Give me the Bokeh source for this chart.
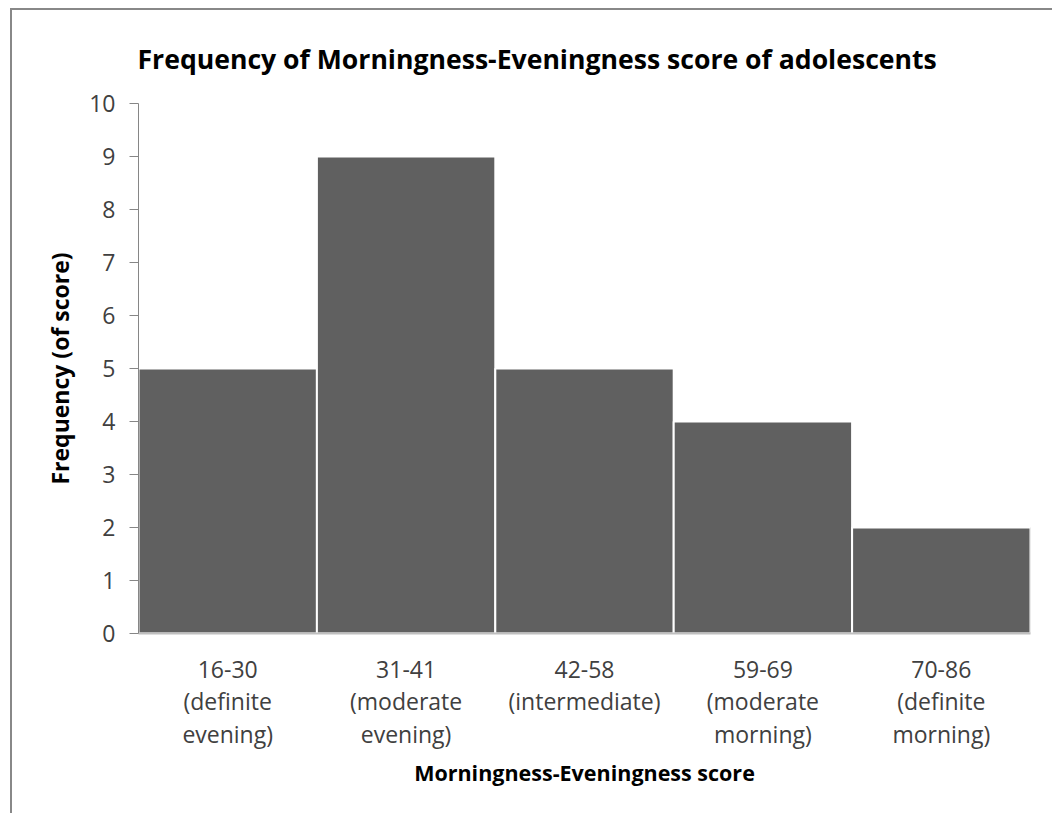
from bokeh.plotting import figure
from bokeh.models import FixedTicker, Range1d
from bokeh.embed import file_html
from bokeh.resources import INLINE

# ---- data ----
score_ranges = ["16-30", "31-41", "42-58", "59-69", "70-86"]
chronotypes = ["(definite\nevening)", "(moderate\nevening)", "(intermediate)",
               "(moderate\nmorning)", "(definite\nmorning)"]
frequencies = [5, 9, 5, 4, 2]
y_ticks = [0, 1, 2, 3, 4, 5, 6, 7, 8, 9, 10]

title_text = "Frequency of Morningness-Eveningness score of adolescents"
x_title = "Morningness-Eveningness score"
y_title = "Frequency (of score)"

centers = [i + 0.5 for i in range(len(score_ranges))]

p = figure(width=1042, height=805,
           x_range=Range1d(0, len(score_ranges)), y_range=Range1d(0, 10),
           output_backend="svg", toolbar_location=None,
           min_border_left=126, min_border_right=24,
           min_border_top=93, min_border_bottom=182,
           title=title_text)
p.styles = {"margin-left": "10px", "margin-top": "8px",
            "border-left": "2px solid #888888", "border-top": "2px solid #888888"}

p.vbar(x=centers, top=frequencies, width=1.0, bottom=0,
       fill_color="#606060", line_color="#ffffff", line_width=2)

p.outline_line_color = None
p.xgrid.grid_line_color = None
p.ygrid.grid_line_color = None

FONT = "Open Sans"

p.title.text_font = FONT
p.title.text_font_size = "26.6px"
p.title.text_font_style = "bold"
p.title.text_color = "#000000"
p.title.align = "left"
p.title.offset = -1
p.title.standoff = 54

# y axis
ya = p.yaxis[0]
ya.ticker = FixedTicker(ticks=y_ticks)
ya.minor_tick_line_color = None
ya.major_tick_in = 0
ya.major_tick_out = 9
ya.axis_line_color = "#868686"
ya.major_tick_line_color = "#868686"
ya.major_label_text_font = FONT
ya.major_label_text_font_size = "23px"
ya.major_label_text_color = "#404040"
ya.major_label_standoff = 14
ya.axis_label = y_title
ya.axis_label_text_font = FONT
ya.axis_label_text_font_size = "23px"
ya.axis_label_text_font_style = "bold"
ya.axis_label_text_color = "#000000"
ya.axis_label_standoff = 10

# x axis
xa = p.xaxis[0]
xa.ticker = FixedTicker(ticks=centers)
xa.major_label_overrides = {c: f"{r}\n{d}" for c, r, d in zip(centers, score_ranges, chronotypes)}
xa.minor_tick_line_color = None
xa.major_tick_line_color = None
xa.major_tick_in = 0
xa.major_tick_out = 0
xa.axis_line_color = "#bfbfbf"
xa.axis_line_width = 2
xa.major_label_text_font = FONT
xa.major_label_text_font_size = "23px"
xa.major_label_text_line_height = 1.03
xa.major_label_text_color = "#404040"
xa.major_label_standoff = 19
xa.axis_label = x_title
xa.axis_label_text_font = FONT
xa.axis_label_text_font_size = "21.5px"
xa.axis_label_text_font_style = "bold"
xa.axis_label_text_color = "#000000"
xa.axis_label_standoff = 5

open("out.html", "w").write(file_html(p, INLINE))
